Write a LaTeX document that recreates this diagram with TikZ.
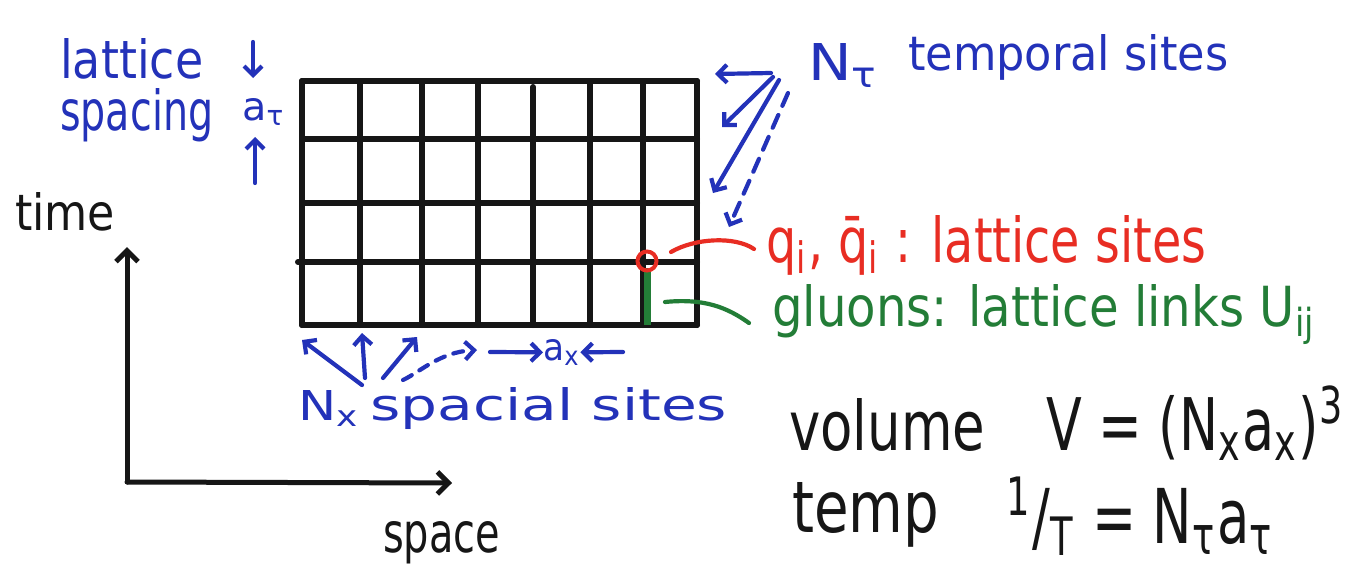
\documentclass[tikz,border=0pt]{standalone}
\usepackage{fontspec}
\setmainfont{DejaVu Sans}
\usetikzlibrary{arrows.meta}
\definecolor{inkblue}{RGB}{35,50,185}
\definecolor{inkred}{RGB}{232,45,35}
\definecolor{inkgreen}{RGB}{35,125,55}
\definecolor{inkblack}{RGB}{22,22,22}
\newcommand{\fw}[3]{\resizebox{#1pt}{#2pt}{#3}}
\begin{document}
\begin{tikzpicture}[x=1pt,y=-1pt,
  txt/.style={inner sep=0pt,anchor=base west},
  gridline/.style={inkblack,line width=6pt,line cap=round},
  axis/.style={inkblack,line width=5pt,line cap=round,-{Straight Barb[length=11pt,width=22pt,line width=5pt]}},
  barrow/.style={inkblue,line width=4.2pt,line cap=round,-{Straight Barb[length=9pt,width=18pt,line width=4.2pt]}},
  bdash/.style={barrow,dash pattern=on 14pt off 10pt}]
\useasboundingbox[fill=white] (0,0) rectangle (1358,573);

% ---- grid (lattice)
\foreach \x in {302,360,422,478,590,643,697} \draw[gridline] (\x,81) -- (\x,325);
\draw[gridline] (533,87) -- (533,325);
\foreach \y in {81,139,203,325} \draw[gridline] (302,\y) -- (697,\y);
\draw[gridline] (298,262) -- (697,262);

% ---- link and site
\coordinate (linktop) at (647,268);
\coordinate (linkbot) at (647,325);
\draw[inkgreen,line width=7pt] (linktop) -- (linkbot);
\node[draw=inkred,line width=4pt,circle,minimum size=19pt,inner sep=0pt] (site) at (647,261) {};

% ---- axes
\coordinate (origin) at (127,482);
\coordinate (tend) at (127,247);
\coordinate (send) at (452,483);
\draw[axis] (origin) -- (tend);
\draw[axis] (origin) -- (send);
\node[txt,inkblack] (time) at (15,230) {\fw{100}{38}{time}};
\node[txt,inkblack] (space) at (383,552) {\fw{117}{31}{space}};

% ---- lattice spacing
\node[txt,inkblue] (lattice) at (60,78) {\fw{143}{40}{lattice}};
\node[txt,inkblue] (spacing) at (60,130) {\fw{153}{42}{spacing}};
\node[txt,inkblue] (atau) at (242,120) {\fw{43}{22}{a\textsubscript{τ}}};
\coordinate (dn0) at (253,42);
\coordinate (dn1) at (253,78);
\coordinate (up0) at (255,183);
\coordinate (up1) at (255,137);
\draw[barrow] (dn0) -- (dn1);
\draw[barrow] (up0) -- (up1);

% ---- temporal sites
\node[txt,inkblue] (Ntau) at (808,80) {\fw{71}{37}{N\textsubscript{τ}}};
\node[txt,inkblue] (temporal) at (908,70) {\fw{320}{36}{temporal sites}};
\coordinate (ts1) at (771,73);
\coordinate (th1) at (715,74);
\coordinate (ts2) at (773,77);
\coordinate (th2) at (722,127);
\coordinate (ts3) at (779,80);
\coordinate (th3) at (713,193);
\coordinate (ts4) at (788,93);
\coordinate (th4) at (729,227);
\draw[barrow] (ts1) -- (th1);
\draw[barrow] (ts2) -- (th2);
\draw[barrow] (ts3) -- (th3);
\draw[bdash] (ts4) -- (th4);

% ---- red: lattice sites
\node[txt,inkred] (sites) at (766,262) {\fw{440}{47}{q\textsubscript{i}, \={q}\textsubscript{i} : lattice sites}};
\coordinate (rs) at (671,252);
\coordinate (re) at (754,249);
\draw[inkred,line width=4.2pt,line cap=round] (rs) .. controls (695,238) and (735,236) .. (re);

% ---- green: gluons
\node[txt,inkgreen] (gluons) at (772,326) {\fw{544}{42}{gluons: lattice links U\textsubscript{ij}}};
\coordinate (gs) at (665,302);
\coordinate (ge) at (749,323);
\draw[inkgreen,line width=4.2pt,line cap=round] (gs) .. controls (705,298) and (728,308) .. (ge);

% ---- spacial sites
\node[txt,inkblue] (Nx) at (298,420) {\fw{62}{30}{N\textsubscript{x}}};
\node[txt,inkblue] (spacial) at (370,420) {\fw{357}{33}{spacial sites}};
\coordinate (xs1) at (362,385);
\coordinate (xh1) at (302,340);
\coordinate (xs2) at (365,378);
\coordinate (xh2) at (362,333);
\coordinate (xs3) at (383,378);
\coordinate (xh3) at (417,337);
\coordinate (xs4) at (403,380);
\coordinate (xh4) at (477,350);
\draw[barrow] (xs1) -- (xh1);
\draw[barrow] (xs2) -- (xh2);
\draw[barrow] (xs3) -- (xh3);
\draw[bdash,dash pattern=on 10pt off 9pt] (xs4) .. controls (420,372) and (440,352) .. (xh4);
\node[txt,inkblue] (ax) at (543,360) {\fw{37}{21}{a\textsubscript{x}}};
\coordinate (axl0) at (490,352);
\coordinate (axr0) at (623,352);
\draw[barrow] (axl0) -- (ax.west);
\draw[barrow] (axr0) -- (ax.east);

% ---- formulas
\node[txt,inkblack] (volume) at (789,450) {\fw{196}{52}{volume}};
\node[txt,inkblack] (Vform) at (1046,450) {\fw{299}{64}{V = (N\textsubscript{x}a\textsubscript{x})\textsuperscript{3}}};
\node[txt,inkblack] (temp) at (792,532) {\fw{147}{50}{temp}};
\node[txt,inkblack] (Tform) at (1006,543) {\fw{268}{66}{\textsuperscript{1}/\textsubscript{T} = N\textsubscript{τ}a\textsubscript{τ}}};
\end{tikzpicture}
\end{document}
